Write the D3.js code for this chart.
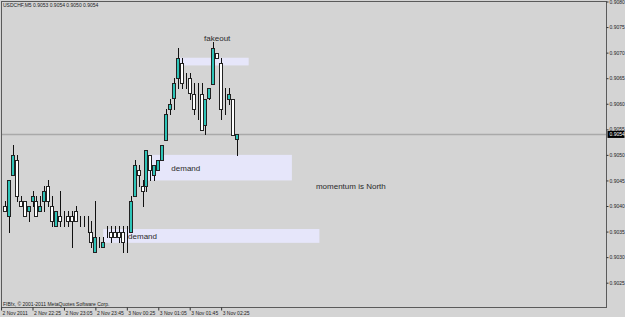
<!DOCTYPE html>
<html><head><meta charset="utf-8">
<script src="https://cdn.jsdelivr.net/npm/d3@7/dist/d3.min.js"></script>
<style>html,body{margin:0;padding:0;background:#d4d4d4;overflow:hidden}svg{display:block}</style>
</head><body><svg id="c" width="625" height="317"></svg>
<script>
// ---- data ----
const symbolTitle = "USDCHF,M5";
const startTime = "2011-11-02 21:50";   // time of first visible bar, M5 bars
const openP  = [.9040,.9038,.9046,.9049,.9041,.9041,.9039,.9041,.9041,.9039,.9041,.9044,.9040,.9036,.9038,.9038,.9038,.9038,.9039,.9037,.9037,.9037,.9035,.9031,.9033,.9032,.9035,.9035,.9035,.9035,.9035,.9035,.9035,.9042,.9047,.9044,.9044,.9050,.9046,.9047,.9049,.9053,.9059,.9061,.9065,.9068,.9065,.9065,.9062,.9061,.9062,.9056,.9061,.9064,.9070,.9068,.9060,.9061,.9061,.9053];
const highP  = [.9041,.9045,.9052,.9050,.9042,.9041,.9040,.9043,.9042,.9042,.9044,.9045,.9042,.9039,.9043,.9039,.9039,.9039,.9040,.9038,.9038,.9038,.9037,.9041,.9034,.9034,.9036,.9036,.9036,.9036,.9036,.9036,.9042,.9049,.9048,.9045,.9051,.9050,.9048,.9049,.9052,.9059,.9061,.9065,.9071,.9069,.9066,.9066,.9064,.9064,.9064,.9061,.9063,.9072,.9070,.9069,.9063,.9063,.9061,.9054];
const lowP   = [.9039,.9035,.9046,.9041,.9040,.9038,.9037,.9040,.9038,.9039,.9039,.9040,.9036,.9036,.9036,.9036,.9036,.9032,.9037,.9036,.9036,.9035,.9032,.9031,.9032,.9032,.9034,.9033,.9034,.9033,.9031,.9031,.9035,.9042,.9044,.9040,.9043,.9045,.9045,.9047,.9049,.9053,.9058,.9059,.9063,.9063,.9063,.9061,.9058,.9057,.9055,.9054,.9061,.9064,.9069,.9057,.9058,.9060,.9054,.9050];
const closeP = [.9039,.9045,.9050,.9042,.9040,.9038,.9040,.9042,.9038,.9040,.9043,.9041,.9037,.9039,.9037,.9038,.9037,.9037,.9037,.9037,.9037,.9037,.9033,.9034,.9033,.9033,.9035,.9034,.9034,.9034,.9033,.9035,.9041,.9048,.9046,.9043,.9051,.9047,.9048,.9049,.9052,.9058,.9060,.9064,.9069,.9064,.9065,.9062,.9059,.9061,.9055,.9061,.9063,.9071,.9069,.9059,.9060,.9062,.9054,.9054];
const priceTicks = [0.9080,0.9075,0.9070,0.9065,0.9060,0.9055,0.9050,0.9045,0.9040,0.9035,0.9030,0.9025];
const timeTickTimes  = ["2011-11-02 21:45","2011-11-02 22:25","2011-11-02 23:05","2011-11-02 23:45","2011-11-03 00:25","2011-11-03 01:05","2011-11-03 01:45","2011-11-03 02:25"];
const timeTickLabels = ["2 Nov 2011","2 Nov 22:25","2 Nov 23:05","2 Nov 23:45","3 Nov 00:25","3 Nov 01:05","3 Nov 01:45","3 Nov 02:25"];
// rectangles (time1, time2, price1, price2)
const zoneT1 = ["2011-11-03 01:30","2011-11-03 00:50","2011-11-02 23:55"];
const zoneT2 = ["2011-11-03 03:00","2011-11-03 03:55","2011-11-03 04:30"];
const zoneP1 = [0.90690,0.90500,0.90355];
const zoneP2 = [0.90675,0.90450,0.90328];
// text labels
const noteText  = ["fakeout","demand","demand","momentum is North"];
const noteTime  = ["2011-11-03 02:20","2011-11-03 01:40","2011-11-03 00:45","2011-11-03 05:10"];
const notePrice = [0.90727,0.90474,0.90341,0.90438];
const copyright = "FIBfx, \u00a9 2001-2011 MetaQuotes Software Corp.";

// ---- chart ----
const W = 625, H = 317;
const L = 1.5, T = 1.5, R = 606.5, B = 307.5;
const parse = d3.timeParse("%Y-%m-%d %H:%M");
const t0 = parse(startTime);
const barIdx = s => (parse(s) - t0) / 300000;
const x = d3.scaleLinear().domain([0, 1]).range([5, 8.93]);
const y = d3.scaleLinear().domain([0.9025, 0.9080]).range([282.7, 1.5]);
const svg = d3.select("#c");
const font = "'Liberation Sans', Arial, sans-serif";

svg.append("rect").attr("width", W).attr("height", H).attr("fill", "#d4d4d4");
const clip = svg.append("clipPath").attr("id","pc").append("rect")
  .attr("x", L).attr("y", T).attr("width", R-L).attr("height", B-T);
const plot = svg.append("g").attr("clip-path","url(#pc)");

// zones
plot.selectAll("rect.zone").data(zoneT1).join("rect").attr("class","zone")
  .attr("x", (d,i) => x(barIdx(d)))
  .attr("width", (d,i) => x(barIdx(zoneT2[i])) - x(barIdx(d)))
  .attr("y", (d,i) => y(zoneP1[i]))
  .attr("height", (d,i) => y(zoneP2[i]) - y(zoneP1[i]))
  .attr("fill", "#e6e6fa");

// bid line
const last = closeP[closeP.length-1];
plot.append("line").attr("x1", L).attr("x2", R)
  .attr("y1", Math.round(y(last))+0.5).attr("y2", Math.round(y(last))+0.5)
  .attr("stroke", "#a9a9a9").attr("stroke-width", 1.5);

// candles
const idx = d3.range(openP.length);
const cg = plot.selectAll("g.candle").data(idx).join("g").attr("class","candle");
cg.append("line")
  .attr("x1", i => Math.round(x(i))+0.5).attr("x2", i => Math.round(x(i))+0.5)
  .attr("y1", i => Math.round(y(highP[i]))).attr("y2", i => Math.round(y(lowP[i]))+1)
  .attr("stroke", "#111").attr("stroke-width", 1);
cg.append("rect")
  .attr("x", i => Math.round(x(i))-1.5)
  .attr("width", 3)
  .attr("y", i => Math.round(y(Math.max(openP[i], closeP[i])))+0.5)
  .attr("height", i => Math.round(Math.abs(y(openP[i]) - y(closeP[i]))))
  .attr("fill", i => closeP[i] > openP[i] ? "#2ec4b8" : "#ffffff")
  .attr("stroke", "#222").attr("stroke-width", 1);

// notes
plot.selectAll("text.note").data(noteText).join("text").attr("class","note")
  .attr("x", (d,i) => x(barIdx(noteTime[i])))
  .attr("y", (d,i) => y(notePrice[i]))
  .attr("text-anchor","middle").attr("dominant-baseline","central")
  .attr("font-family", font).attr("font-size", 8).attr("fill", "#2a2a2a")
  .text(d => d);

// frame
svg.append("rect").attr("x", L).attr("y", T).attr("width", R-L).attr("height", B-T)
  .attr("fill","none").attr("stroke","#5a5a5a").attr("stroke-width",1);

// header & copyright
svg.append("text").attr("x", 3).attr("y", 7).attr("font-family", font).attr("font-size", 5)
  .attr("fill","#222")
  .text(symbolTitle + "  " + [openP, highP, lowP, closeP].map(a => a[a.length-1].toFixed(4)).join(" "));
svg.append("text").attr("x", 3).attr("y", 305.5).attr("font-family", font).attr("font-size", 5)
  .attr("fill","#222").text(copyright);

// price axis
const ya = svg.append("g").attr("transform", `translate(${R},0)`)
  .call(d3.axisRight(y).tickValues(priceTicks).tickFormat(d3.format(".4f")).tickSize(2).tickPadding(1));
ya.select(".domain").remove();
ya.selectAll("line").attr("stroke","#333");
ya.selectAll("text").attr("font-family", font).attr("font-size", 5).attr("fill","#222");

// current price tag
const tag = svg.append("g").attr("transform", `translate(${R+1},${y(last)})`);
tag.append("rect").attr("x", 0).attr("y", -3.5).attr("width", 17).attr("height", 7).attr("fill", "#000");
tag.append("text").attr("x", 2).attr("y", 0).attr("dominant-baseline","central")
  .attr("font-family", font).attr("font-size", 5).attr("fill","#fff").text(last.toFixed(4));

// time axis
const xa = svg.append("g").attr("transform", `translate(0,${B})`)
  .call(d3.axisBottom(x).tickValues(timeTickTimes.map(barIdx)).tickFormat((d,i) => timeTickLabels[i]).tickSize(3));
xa.select(".domain").remove();
xa.selectAll("line").attr("stroke","#333");
xa.selectAll("text").attr("font-family", font).attr("font-size", 5).attr("fill","#222")
  .attr("text-anchor","start").attr("dx", 1).attr("y", 3.5);
</script></body></html>
